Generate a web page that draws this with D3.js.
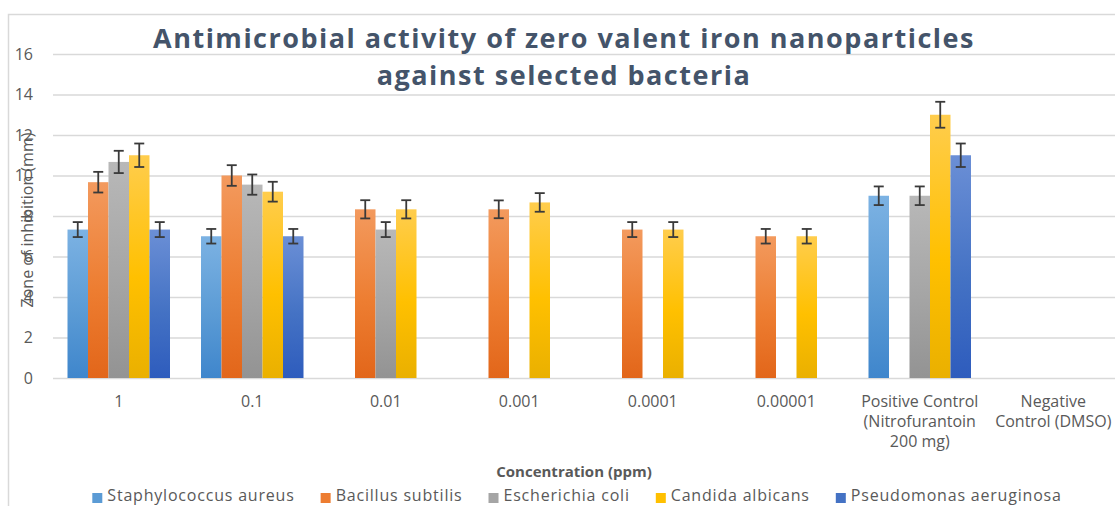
<!DOCTYPE html>
<html>
<head>
<meta charset="utf-8">
<script src="https://cdn.jsdelivr.net/npm/d3@7"></script>
<style>
    body { margin: 0; background: #ffffff; }
    svg text { font-family: "Open Sans", Lato, sans-serif; }
</style>
</head>
<body>
<svg id="chart" width="1115" height="506"></svg>
<script>

// categories on the x axis, each label split into its wrapped lines
var categories = ["1", "0.1", "0.01", "0.001", "0.0001", "0.00001", "Positive Control", "Negative Control"];
var categoryLines = [
    ["1"], ["0.1"], ["0.01"], ["0.001"], ["0.0001"], ["0.00001"],
    ["Positive Control", "(Nitrofurantoin", "200 mg)"],
    ["Negative", "Control (DMSO)"]
];

// organisms (series)
var series = ["Staphylococcus aureus", "Bacillus subtilis", "Escherichia coli", "Candida albicans", "Pseudomonas aeruginosa"];

// zone of inhibition (mm) per category, null = no bar
var staphValues    = [7.33, 7.0,  null, null, null, null, 9.0,  null];
var bacillusValues = [9.67, 10.0, 8.33, 8.33, 7.33, 7.0,  null, null];
var ecoliValues    = [10.67, 9.55, 7.33, null, null, null, 9.0,  null];
var candidaValues  = [11.0, 9.2,  8.33, 8.67, 7.33, 7.0,  13.0, null];
var pseudoValues   = [7.33, 7.0,  null, null, null, null, 11.0, null];

// error bar half-lengths
var staphErr    = [0.37, 0.36, null, null, null, null, 0.46, null];
var bacillusErr = [0.51, 0.51, 0.45, 0.44, 0.37, 0.36, null, null];
var ecoliErr    = [0.55, 0.5,  0.37, null, null, null, 0.46, null];
var candidaErr  = [0.58, 0.49, 0.45, 0.46, 0.37, 0.36, 0.64, null];
var pseudoErr   = [0.37, 0.36, null, null, null, null, 0.58, null];

// y axis ticks
var yTicks = [0, 2, 4, 6, 8, 10, 12, 14, 16];

var allValues = [staphValues, bacillusValues, ecoliValues, candidaValues, pseudoValues];
var allErrors = [staphErr, bacillusErr, ecoliErr, candidaErr, pseudoErr];

// colors: top tint, base, bottom shade
var seriesColors = [
    ["#7cb2e3", "#5b9bd5", "#3f86cc"],
    ["#f39a5e", "#ed7d31", "#e2661a"],
    ["#b8b8b8", "#a5a5a5", "#939393"],
    ["#ffcd4d", "#ffc000", "#eab000"],
    ["#6b8fd6", "#4472c4", "#2e5cbd"]
];

var width = 1115;
var textColor = "#595959";
var gridColor = "#d9d9d9";

var svg = d3.select("#chart");

// gradients for the bars
var defs = svg.append("defs");
seriesColors.forEach(function(c, i) {
    var grad = defs.append("linearGradient")
        .attr("id", "grad" + i)
        .attr("x1", 0).attr("y1", 0)
        .attr("x2", 0).attr("y2", 1);
    grad.append("stop").attr("offset", "0%").attr("stop-color", c[0]);
    grad.append("stop").attr("offset", "55%").attr("stop-color", c[1]);
    grad.append("stop").attr("offset", "100%").attr("stop-color", c[2]);
});

// chart border (top and left edge visible)
svg.append("path")
    .attr("d", "M8.5,506 V14.5 H" + width)
    .attr("fill", "none")
    .attr("stroke", gridColor)
    .attr("stroke-width", 1.5);

// scales
var x0 = d3.scaleBand()
    .domain(categories)
    .range([52, 52 + 8 * 133.5])
    .padding(0);

var x1 = d3.scaleBand()
    .domain(series)
    .range([15.5, 118])
    .padding(0);

var y = d3.scaleLinear()
    .domain([0, 16])
    .range([378, 54]);

// y axis with gridlines
var yAxis = svg.append("g")
    .attr("class", "axis y")
    .attr("transform", "translate(53,0)")
    .call(d3.axisLeft(y)
        .tickValues(yTicks)
        .tickSize(-(width - 53))
        .tickPadding(20));
yAxis.select(".domain").remove();
yAxis.selectAll("line")
    .attr("stroke", gridColor)
    .attr("stroke-width", 1.3);
yAxis.selectAll("text")
    .attr("fill", textColor)
    .style("font-size", "16px");

// y axis title, sits over the tick labels like in the original
svg.append("text")
    .attr("transform", "translate(33,220) rotate(-90)")
    .attr("text-anchor", "middle")
    .attr("fill", textColor)
    .style("font-size", "16px")
    .text("Zone of inhibition (mm)");

// x axis labels (wrapped)
var xAxis = svg.append("g")
    .attr("class", "axis x")
    .attr("transform", "translate(0,378)")
    .call(d3.axisBottom(x0).tickSize(0).tickPadding(18));
xAxis.select(".domain").remove();
xAxis.selectAll("text")
    .attr("fill", textColor)
    .style("font-size", "16px")
    .text(null)
    .each(function(d, i) {
        var t = d3.select(this);
        categoryLines[i].forEach(function(line, j) {
            t.append("tspan")
                .attr("x", 0)
                .attr("dy", j === 0 ? "0.71em" : "1.25em")
                .text(line);
        });
    });

// bars
var groups = svg.append("g")
    .selectAll("g")
    .data(categories)
    .enter().append("g")
    .attr("transform", function(d) { return "translate(" + x0(d) + ",0)"; });

var barData = function(d, i) {
    return series.map(function(s, k) {
        return {series: s, k: k, value: allValues[k][i], err: allErrors[k][i]};
    }).filter(function(b) { return b.value !== null; });
};

groups.selectAll("rect")
    .data(barData)
    .enter().append("rect")
    .attr("x", function(b) { return x1(b.series); })
    .attr("y", function(b) { return y(b.value); })
    .attr("width", x1.bandwidth())
    .attr("height", function(b) { return y(0) - y(b.value); })
    .attr("fill", function(b) { return "url(#grad" + b.k + ")"; });

// error bars
var errs = groups.selectAll("g.err")
    .data(barData)
    .enter().append("g")
    .attr("class", "err")
    .attr("stroke", "#3a3a3a")
    .attr("stroke-width", 1.8)
    .attr("transform", function(b) { return "translate(" + (x1(b.series) + x1.bandwidth() / 2) + ",0)"; });

errs.append("line")
    .attr("x1", 0).attr("x2", 0)
    .attr("y1", function(b) { return y(b.value + b.err); })
    .attr("y2", function(b) { return y(b.value - b.err); });
errs.append("line")
    .attr("x1", -5).attr("x2", 5)
    .attr("y1", function(b) { return y(b.value + b.err); })
    .attr("y2", function(b) { return y(b.value + b.err); });
errs.append("line")
    .attr("x1", -5).attr("x2", 5)
    .attr("y1", function(b) { return y(b.value - b.err); })
    .attr("y2", function(b) { return y(b.value - b.err); });

// title
var title = svg.append("text")
    .attr("text-anchor", "middle")
    .attr("fill", "#44546a")
    .style("font-size", "27px")
    .style("font-weight", "bold")
    .style("letter-spacing", "1.5px");
title.append("tspan").attr("x", 564).attr("y", 48)
    .text("Antimicrobial activity of zero valent iron nanoparticles");
title.append("tspan").attr("x", 564).attr("y", 85)
    .text("against selected bacteria");

// x axis title
svg.append("text")
    .attr("x", 574)
    .attr("y", 477)
    .attr("text-anchor", "middle")
    .attr("fill", textColor)
    .style("font-size", "15px")
    .style("font-weight", "bold")
    .text("Concentration (ppm)");

// legend
var legend = svg.append("g").attr("class", "legend");
var legendItems = legend.selectAll("g")
    .data(series)
    .enter().append("g");

legendItems.append("rect")
    .attr("x", 0)
    .attr("y", 493)
    .attr("width", 10)
    .attr("height", 10)
    .attr("fill", function(d, i) { return seriesColors[i][1]; });

legendItems.append("text")
    .attr("x", 15)
    .attr("y", 501)
    .attr("fill", textColor)
    .style("font-size", "16px")
    .style("letter-spacing", "0.8px")
    .text(function(d) { return d; });

// place legend items next to each other and center the row
var gap = 26;
var offset = 0;
legendItems.each(function() {
    var g = d3.select(this);
    g.attr("transform", "translate(" + offset + ",0)");
    offset += 15 + g.select("text").node().getComputedTextLength() + gap;
});
legend.attr("transform", "translate(" + (577 - (offset - gap) / 2) + ",0)");

</script>
</body>
</html>
